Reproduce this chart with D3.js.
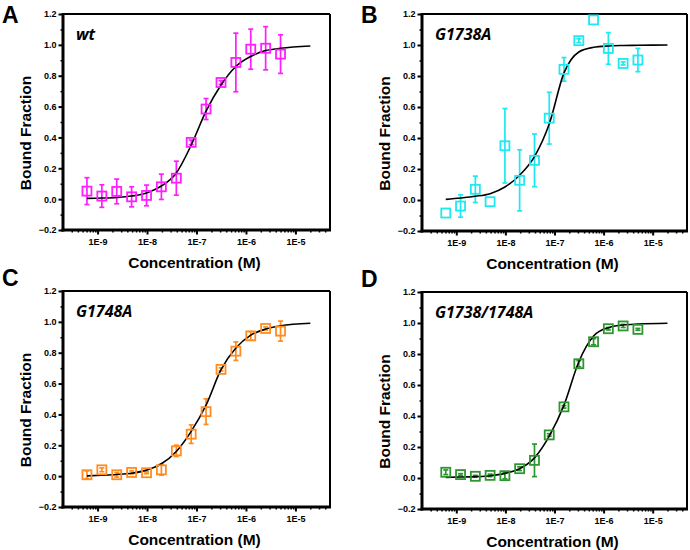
<!DOCTYPE html>
<html>
<head>
<meta charset="utf-8">
<script src="https://cdn.jsdelivr.net/npm/d3@7"></script>
<style>
  body { margin: 0; background: #fff; }
  svg { display: block; }
</style>
</head>
<body>
<svg id="chart" width="690" height="550"></svg>
<script>
// ---------- DATA ----------
const conc = [6.1e-10, 1.22e-9, 2.44e-9, 4.88e-9, 9.77e-9, 1.95e-8, 3.91e-8, 7.81e-8, 1.56e-7, 3.13e-7, 6.25e-7, 1.25e-6, 2.5e-6, 5e-6];
const fitConc = [6.1e-10, 1.22e-9, 2.44e-9, 4.88e-9, 9.77e-9, 1.95e-8, 3.91e-8, 7.81e-8, 1.56e-7, 3.13e-7, 6.25e-7, 1.25e-6, 2.5e-6, 5e-6, 2e-5];

const panelLetters = ["A", "B", "C", "D"];
const panelNames = ["wt", "G1738A", "G1748A", "G1738/1748A"];
const panelColors = ["#ff1eff", "#1ee8f0", "#ff8c1e", "#2e9630"];

const wtValues   = [0.052, 0.020, 0.050, 0.015, 0.024, 0.080, 0.136, 0.368, 0.584, 0.756, 0.886, 0.972, 0.978, 0.940];
const wtErrors   = [0.087, 0.073, 0.080, 0.065, 0.067, 0.082, 0.110, 0.015, 0.068, 0.012, 0.190, 0.130, 0.140, 0.125];
const wtFit      = [0.005, 0.007, 0.011, 0.020, 0.040, 0.085, 0.170, 0.350, 0.570, 0.740, 0.860, 0.925, 0.963, 0.978, 0.993];

const g1738Values = [-0.084, -0.039, 0.069, -0.011, 0.350, 0.127, 0.256, 0.528, 0.843, 1.028, 1.162, 0.978, 0.881, 0.903];
const g1738Errors = [0.000, 0.072, 0.085, 0.000, 0.240, 0.197, 0.170, 0.167, 0.076, 0.012, 0.000, 0.102, 0.010, 0.075];
const g1738Fit    = [0.004, 0.013, 0.024, 0.041, 0.084, 0.160, 0.280, 0.490, 0.820, 0.955, 0.985, 0.994, 0.997, 0.998, 1.000];

const g1748Values = [0.009, 0.041, 0.009, 0.024, 0.022, 0.041, 0.164, 0.272, 0.418, 0.692, 0.810, 0.909, 0.957, 0.940];
const g1748Errors = [0.025, 0.012, 0.015, 0.010, 0.006, 0.035, 0.037, 0.060, 0.083, 0.010, 0.060, 0.028, 0.010, 0.065];
const g1748Fit    = [0.002, 0.006, 0.011, 0.019, 0.039, 0.080, 0.160, 0.290, 0.460, 0.690, 0.830, 0.914, 0.953, 0.974, 0.991];

const dblValues = [0.037, 0.022, 0.011, 0.017, 0.015, 0.060, 0.114, 0.278, 0.459, 0.737, 0.879, 0.963, 0.981, 0.959];
const dblErrors = [0.015, 0.006, 0.006, 0.008, 0.020, 0.012, 0.105, 0.008, 0.008, 0.020, 0.020, 0.008, 0.010, 0.006];
const dblFit    = [0.004, 0.006, 0.009, 0.015, 0.030, 0.060, 0.130, 0.270, 0.470, 0.750, 0.916, 0.970, 0.987, 0.993, 0.998];

const yTicks = [-0.2, 0.0, 0.2, 0.4, 0.6, 0.8, 1.0, 1.2];
const xTicks = [1e-9, 1e-8, 1e-7, 1e-6, 1e-5];
const xTickLabels = ["1E-9", "1E-8", "1E-7", "1E-6", "1E-5"];
const xDomain = [2e-10, 5e-5];
const yDomain = [-0.2, 1.2];
const xTitle = "Concentration (M)";
const yTitle = "Bound Fraction";

const panelValues = [wtValues, g1738Values, g1748Values, dblValues];
const panelErrors = [wtErrors, g1738Errors, g1748Errors, dblErrors];
const panelFits = [wtFit, g1738Fit, g1748Fit, dblFit];

// ---------- LAYOUT ----------
const frames = [
  {x0: 63,  x1: 330, y0: 14,  y1: 230, lx: 2,   ly: 23},
  {x0: 422, x1: 687, y0: 14,  y1: 231, lx: 361, ly: 23},
  {x0: 63,  x1: 330, y0: 291, y1: 507, lx: 2,   ly: 286},
  {x0: 422, x1: 687, y0: 292, y1: 509, lx: 361, ly: 287}
];

const svg = d3.select("#chart");
const fontAxis = "'Liberation Sans', Arial, sans-serif";

frames.forEach((f, i) => {
  const g = svg.append("g");
  const x = d3.scaleLog().domain(xDomain).range([f.x0, f.x1]);
  const y = d3.scaleLinear().domain(yDomain).range([f.y1, f.y0]);
  const color = panelColors[i];

  // minor y ticks
  const yMinor = d3.range(-0.1, 1.2, 0.2);
  g.append("g").attr("transform", `translate(${f.x0},0)`)
    .call(d3.axisLeft(y).tickValues(yMinor).tickSize(2.5).tickFormat(""))
    .call(s => s.select(".domain").remove())
    .call(s => s.selectAll("line").attr("stroke-width", 1.5));

  // major y axis
  g.append("g").attr("transform", `translate(${f.x0},0)`)
    .call(d3.axisLeft(y).tickValues(yTicks).tickSize(4.5).tickPadding(2).tickFormat(d3.format(".1f")))
    .call(s => s.select(".domain").remove())
    .call(s => s.selectAll("line").attr("stroke-width", 2))
    .call(s => s.selectAll("text").attr("font-family", fontAxis).attr("font-weight", "bold").attr("font-size", 9).attr("fill", "#000"));

  // minor x ticks
  const minor = [];
  for (let e = -10; e <= -5; e++) for (let k = 2; k <= 9; k++) {
    const v = k * Math.pow(10, e);
    if (v > xDomain[0] && v < xDomain[1]) minor.push(v);
  }
  g.append("g").attr("transform", `translate(0,${f.y1})`)
    .call(d3.axisBottom(x).tickValues(minor).tickSize(2.5).tickFormat(""))
    .call(s => s.select(".domain").remove())
    .call(s => s.selectAll("line").attr("stroke-width", 1.5));

  // major x axis
  g.append("g").attr("transform", `translate(0,${f.y1})`)
    .call(d3.axisBottom(x).tickValues(xTicks).tickSize(4.5).tickPadding(4).tickFormat((d, j) => xTickLabels[j]))
    .call(s => s.select(".domain").remove())
    .call(s => s.selectAll("line").attr("stroke-width", 2))
    .call(s => s.selectAll("text").attr("font-family", fontAxis).attr("font-weight", "bold").attr("font-size", 9).attr("fill", "#000"));

  // frame
  g.append("line").attr("x1", f.x0).attr("x2", f.x1).attr("y1", f.y0).attr("y2", f.y0).attr("stroke", "#000").attr("stroke-width", 2);
  g.append("line").attr("x1", f.x1).attr("x2", f.x1).attr("y1", f.y0).attr("y2", f.y1).attr("stroke", "#000").attr("stroke-width", 2);
  g.append("line").attr("x1", f.x0).attr("x2", f.x0).attr("y1", f.y0 - 1).attr("y2", f.y1 + 1.5).attr("stroke", "#000").attr("stroke-width", 3);
  g.append("line").attr("x1", f.x0 - 1.5).attr("x2", f.x1 + 1).attr("y1", f.y1).attr("y2", f.y1).attr("stroke", "#000").attr("stroke-width", 3);

  // data
  const vals = panelValues[i], errs = panelErrors[i];
  const pts = conc.map((c, j) => ({c, v: vals[j], e: errs[j]}));

  // error bars
  const eb = g.append("g").attr("stroke", color).attr("stroke-width", 1.7).attr("fill", "none");
  pts.filter(p => p.e > 0).forEach(p => {
    const cx = x(p.c);
    eb.append("line").attr("x1", cx).attr("x2", cx).attr("y1", y(p.v + p.e)).attr("y2", y(p.v - p.e));
    eb.append("line").attr("x1", cx - 2.5).attr("x2", cx + 2.5).attr("y1", y(p.v + p.e)).attr("y2", y(p.v + p.e));
    eb.append("line").attr("x1", cx - 2.5).attr("x2", cx + 2.5).attr("y1", y(p.v - p.e)).attr("y2", y(p.v - p.e));
  });

  // fit curve
  const fit = fitConc.map((c, j) => [c, panelFits[i][j]]);
  g.append("path")
    .datum(fit)
    .attr("fill", "none").attr("stroke", "#000").attr("stroke-width", 1.6)
    .attr("d", d3.line().x(d => x(d[0])).y(d => y(d[1])).curve(d3.curveMonotoneX));

  // markers
  const s = 9;
  g.append("g").selectAll("rect").data(pts).join("rect")
    .attr("x", p => x(p.c) - s / 2).attr("y", p => y(p.v) - s / 2)
    .attr("width", s).attr("height", s)
    .attr("fill", "none").attr("stroke", color).attr("stroke-width", 1.8);

  // panel name
  g.append("text").attr("x", f.x0 + 13).attr("y", f.y0 + 26)
    .attr("font-family", "'Open Sans', 'Noto Sans', sans-serif")
    .attr("font-weight", "bold").attr("font-style", "italic").attr("font-size", 16)
    .text(panelNames[i]);

  // axis titles
  g.append("text").attr("x", (f.x0 + f.x1) / 2 - 2).attr("y", f.y1 + 38)
    .attr("text-anchor", "middle").attr("font-family", fontAxis).attr("font-weight", "bold").attr("font-size", 15.5)
    .text(xTitle);
  g.append("text")
    .attr("transform", `translate(${f.x0 - 32},${(f.y0 + f.y1) / 2 + 11}) rotate(-90)`)
    .attr("text-anchor", "middle").attr("font-family", fontAxis).attr("font-weight", "bold").attr("font-size", 15.5)
    .text(yTitle);

  // panel letter
  g.append("text").attr("x", f.lx).attr("y", f.ly)
    .attr("font-family", fontAxis).attr("font-weight", "bold").attr("font-size", 23)
    .text(panelLetters[i]);
});
</script>
</body>
</html>
